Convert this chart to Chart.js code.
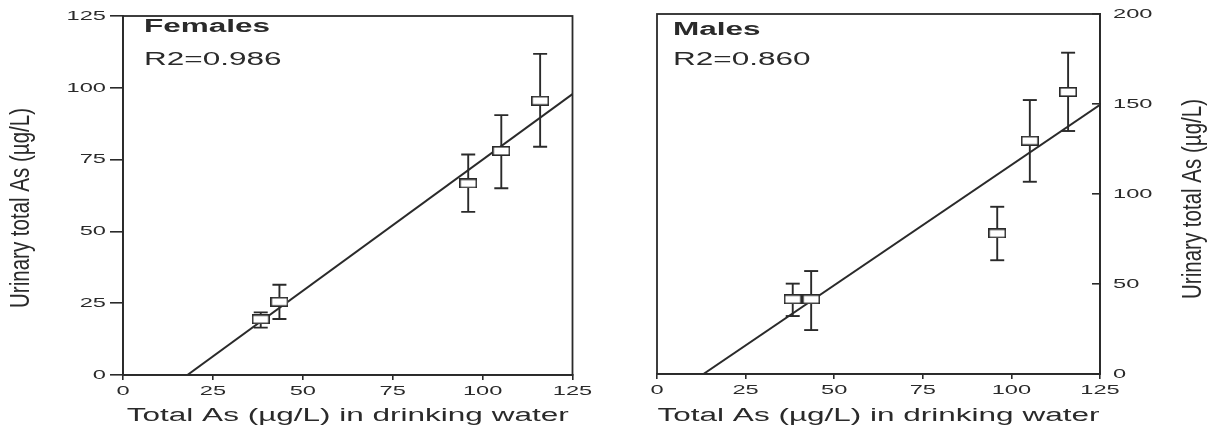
<!DOCTYPE html>
<html>
<head>
<meta charset="utf-8">
<title>Urinary total As vs drinking water As</title>
<script src="https://cdn.jsdelivr.net/npm/chart.js@4.4.1/dist/chart.umd.min.js"></script>
<style>
  html, body { margin: 0; padding: 0; background: #fff; }
  .panel { position: absolute; top: 0; height: 429px; }
  #left { left: 0; width: 600px; }
  #right { left: 600px; width: 617px; }
</style>
</head>
<body>
<div class="panel" id="left"><canvas id="females"></canvas></div>
<div class="panel" id="right"><canvas id="males"></canvas></div>
<script>
// ---- data ----
const waterAs = [38.3, 43.5, 96.0, 105.2, 116.0];

const femaleMean = [19.4, 25.5, 66.7, 78.0, 95.5];
const femaleLow  = [16.5, 19.5, 56.8, 65.0, 79.5];
const femaleHigh = [21.8, 31.4, 76.8, 90.5, 111.8];
const femaleFitX = [17.9, 125];
const femaleFitY = [0, 97.8];

const maleMean = [41.5, 41.5, 78.1, 129.6, 156.7];
const maleLow  = [32.2, 24.4, 63.2, 106.8, 135.0];
const maleHigh = [50.2, 57.2, 92.9, 152.2, 178.5];
const maleFitX = [13.1, 125];
const maleFitY = [0, 149.6];

const xTicks = [0, 25, 50, 75, 100, 125];
const femaleYTicks = [0, 25, 50, 75, 100, 125];
const maleYTicks = [0, 50, 100, 150, 200];

const X_TITLE = 'Total As (µg/L) in drinking water';
const Y_TITLE = 'Urinary total As (µg/L)';

// ---- look ----
const INK = '#2a2a2a';
const FONT = '"Liberation Sans", Arial, Helvetica, sans-serif';
const WIDE = 1.75;     // the scan is stretched sideways
const NARROW = 0.76;   // y titles are condensed

// stretch every text the chart draws horizontally
function stretchText(ctx) {
  const fill = ctx.fillText.bind(ctx);
  const measure = ctx.measureText.bind(ctx);
  ctx.stretch = WIDE;
  ctx.fillText = (text, x, y) => {
    ctx.save();
    ctx.translate(x, y);
    ctx.scale(ctx.stretch, 1);
    fill(text, 0, 0);
    ctx.restore();
  };
  ctx.measureText = text => {
    const m = measure(text);
    return {
      width: m.width * ctx.stretch,
      actualBoundingBoxAscent: m.actualBoundingBoxAscent,
      actualBoundingBoxDescent: m.actualBoundingBoxDescent,
      actualBoundingBoxLeft: m.actualBoundingBoxLeft * ctx.stretch,
      actualBoundingBoxRight: m.actualBoundingBoxRight * ctx.stretch
    };
  };
  return ctx;
}

function boxMarker() {
  const c = document.createElement('canvas');
  c.width = 18; c.height = 10;
  const g = c.getContext('2d');
  g.fillStyle = '#fff';
  g.fillRect(0, 0, 18, 10);
  g.strokeStyle = INK;
  g.lineWidth = 1.6;
  g.strokeRect(0.8, 0.8, 16.4, 8.4);
  return c;
}

// frame, panel name, R2 and the rotated y title
const panelText = {
  id: 'panelText',
  afterDraw(chart, args, o) {
    const { ctx, chartArea: a } = chart;
    ctx.save();
    ctx.strokeStyle = INK;
    ctx.lineWidth = 1.8;
    ctx.strokeRect(a.left, a.top, a.right - a.left, a.bottom - a.top);

    ctx.fillStyle = INK;
    ctx.textAlign = 'left';
    ctx.textBaseline = 'alphabetic';
    ctx.font = `bold 18px ${FONT}`;
    ctx.fillText(o.name, a.left + o.dx, a.top + o.nameY);
    ctx.font = `18px ${FONT}`;
    ctx.fillText(o.r2, a.left + o.dx, a.top + o.r2Y);

    ctx.translate(o.yTitleX, o.yTitleY);
    ctx.rotate(-Math.PI / 2);
    ctx.textAlign = 'center';
    ctx.textBaseline = 'middle';
    ctx.font = `27px ${FONT}`;
    ctx.stretch = NARROW;
    ctx.fillText(Y_TITLE, 0, 0);
    ctx.stretch = WIDE;
    ctx.restore();
  }
};

function points(xs, ys) {
  return xs.map((x, i) => ({ x, y: ys[i] }));
}

function errorBars(xs, lo, hi) {
  const d = [];
  xs.forEach((x, i) => {
    d.push({ x, y: lo[i] }, { x, y: hi[i] }, { x, y: null });
  });
  return d;
}

function datasets(mean, lo, hi, fitX, fitY) {
  return [
    {
      data: points(waterAs, mean),
      pointStyle: boxMarker(),
      pointRadius: 8,
      order: 0
    },
    {
      data: errorBars(waterAs, lo, hi),
      showLine: true,
      spanGaps: false,
      borderColor: INK,
      borderWidth: 1.9,
      pointStyle: 'line',
      pointRadius: 7,
      pointBorderColor: INK,
      pointBorderWidth: 1.9,
      order: 1
    },
    {
      data: points(fitX, fitY),
      showLine: true,
      borderColor: INK,
      borderWidth: 2,
      pointRadius: 0,
      order: 2
    }
  ];
}

function xScale(height) {
  return {
    type: 'linear',
    min: 0, max: 125,
    afterBuildTicks: s => { s.ticks = xTicks.map(v => ({ value: v })); },
    afterFit: s => { s.height = height; },
    ticks: { color: INK, font: { family: FONT, size: 13.5 }, padding: 3, maxRotation: 0, autoSkip: false },
    grid: { drawOnChartArea: false, tickLength: 5, color: INK, lineWidth: 1.6 },
    border: { color: INK, width: 1.8 },
    title: { display: true, text: X_TITLE, color: INK, font: { family: FONT, size: 18 }, padding: { top: 0, bottom: 2 } }
  };
}

function yScale(max, ticks, position, width, tickLength, padding) {
  return {
    type: 'linear',
    position,
    min: 0, max,
    afterBuildTicks: s => { s.ticks = ticks.map(v => ({ value: v })); },
    afterFit: s => {
      s.width = width;
      s.paddingTop = 0;
      s.paddingBottom = 0;
    },
    ticks: { color: INK, font: { family: FONT, size: 13.5 }, padding },
    grid: { drawOnChartArea: false, tickLength, color: INK, lineWidth: 1.6 },
    border: { color: INK, width: 1.8 }
  };
}

const common = {
  responsive: true,
  maintainAspectRatio: false,
  animation: false,
  events: []
};

new Chart(stretchText(document.getElementById('females').getContext('2d')), {
  type: 'scatter',
  data: { datasets: datasets(femaleMean, femaleLow, femaleHigh, femaleFitX, femaleFitY) },
  plugins: [panelText],
  options: {
    ...common,
    layout: { padding: { left: 0, top: 16, right: 27.5, bottom: 0 } },
    scales: {
      x: xScale(54),
      y: yScale(125, femaleYTicks, 'left', 123, 13, 4)
    },
    plugins: {
      legend: { display: false },
      tooltip: { enabled: false },
      panelText: { name: 'Females', r2: 'R2=0.986', dx: 21, nameY: 16, r2Y: 49, yTitleX: 22, yTitleY: 208 }
    }
  }
});

new Chart(stretchText(document.getElementById('males').getContext('2d')), {
  type: 'scatter',
  data: { datasets: datasets(maleMean, maleLow, maleHigh, maleFitX, maleFitY) },
  plugins: [panelText],
  options: {
    ...common,
    layout: { padding: { left: 57, top: 14, right: 0, bottom: 0 } },
    scales: {
      x: xScale(55),
      y: yScale(200, maleYTicks, 'right', 117, -8, 21)
    },
    plugins: {
      legend: { display: false },
      tooltip: { enabled: false },
      panelText: { name: 'Males', r2: 'R2=0.860', dx: 16, nameY: 21, r2Y: 51, yTitleX: 594, yTitleY: 199 }
    }
  }
});
</script>
</body>
</html>
